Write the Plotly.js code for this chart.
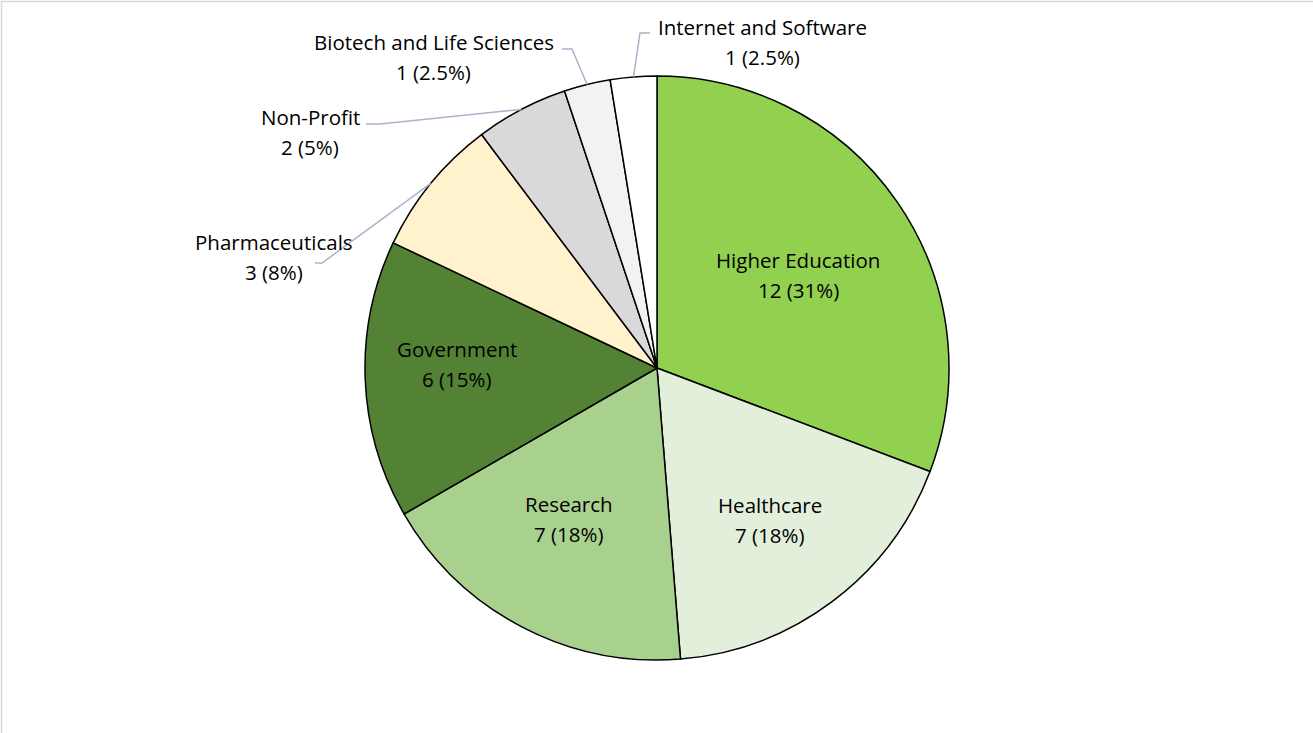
<!DOCTYPE html>
<html>
<head>
<meta charset="utf-8">
<script src="https://cdn.plot.ly/plotly-3.0.1.min.js"></script>
<style>html,body{margin:0;padding:0;background:#fff;}#chart{width:1313px;height:733px;}</style>
</head>
<body>
<div id="chart"></div>
<script>
// ---- data ----
const categories = ["Higher Education", "Healthcare", "Research", "Government", "Pharmaceuticals", "Non-Profit", "Biotech and Life Sciences", "Internet and Software"];
const values = [12, 7, 7, 6, 3, 2, 1, 1];
const pctLabels = ["31%", "18%", "18%", "15%", "8%", "5%", "2.5%", "2.5%"];

// ---- styling / layout ----
const colors = ["#92D050", "#E2EFDA", "#A9D18E", "#548235", "#FFF2CC", "#D9D9D9", "#F2F2F2", "#FFFFFF"];
const W = 1313, H = 733;
const M = {l: 50, r: 49, t: 76, b: 73};
const PW = W - M.l - M.r, PH = H - M.t - M.b;
const R = Math.min(PW, PH) / 2;
const CX = M.l + PW / 2, CY = M.t + PH / 2;
const FONT = "'Open Sans', sans-serif";
const FS = 20.5;
const LINEGAP = 15;
// label centre (px)
const labelPos = [[798, 275], [770, 520], [569, 519], [457, 364], [274, 257], [310, 132], [434, 57], [762, 42]];
// leader line elbow (px) for outside labels: [startX, endX, y]
const elbows = {4: [315, 322, 263], 5: [366, 380, 124], 6: [562, 572, 49], 7: [650, 640, 33]};

const px2x = px => (px - M.l) / PW;
const px2y = py => 1 - (py - M.t) / PH;

const total = values.reduce((a, b) => a + b, 0);
const annotations = [];
const shapes = [];
let cum = 0;
values.forEach((v, i) => {
  const mid = (cum + v / 2) / total * 2 * Math.PI;
  cum += v;
  const line1 = categories[i];
  const line2 = v + " (" + pctLabels[i] + ")";
  const [lx, ly] = labelPos[i];
  if (elbows[i]) {
    const o = elbows[i];
    const ex = CX + R * Math.sin(mid), ey = CY - R * Math.cos(mid);
    shapes.push({
      type: "path", xref: "paper", yref: "paper",
      path: `M ${px2x(o[0])} ${px2y(o[2])} L ${px2x(o[1])} ${px2y(o[2])} L ${px2x(ex)} ${px2y(ey)}`,
      line: {color: "#A6B5C9", width: 1.5}
    });
  }
  [[line1, ly - LINEGAP], [line2, ly + LINEGAP]].forEach(([t, y]) => {
    annotations.push({
      xref: "paper", yref: "paper", x: px2x(lx), y: px2y(y),
      xanchor: "center", yanchor: "middle", showarrow: false,
      text: t, font: {family: FONT, size: FS, color: "#000"}
    });
  });
});

// chart border
shapes.push({
  type: "rect", xref: "paper", yref: "paper", layer: "below",
  x0: px2x(1.5), x1: px2x(1330), y0: px2y(1.5), y1: px2y(760),
  line: {color: "#D9D9D9", width: 1.5}, fillcolor: "rgba(0,0,0,0)"
});

const trace = {
  type: "pie",
  labels: categories,
  values: values,
  sort: false,
  direction: "clockwise",
  rotation: 0,
  marker: {colors: colors, line: {color: "#000", width: 1.5}},
  textinfo: "none",
  hoverinfo: "label+value+percent",
  showlegend: false,
  domain: {x: [0, 1], y: [0, 1]}
};

const layout = {
  width: W, height: H,
  margin: M,
  paper_bgcolor: "#fff",
  plot_bgcolor: "#fff",
  showlegend: false,
  annotations: annotations,
  shapes: shapes,
  font: {family: FONT}
};

Plotly.newPlot("chart", [trace], layout, {displayModeBar: false, staticPlot: true});
</script>
</body>
</html>
